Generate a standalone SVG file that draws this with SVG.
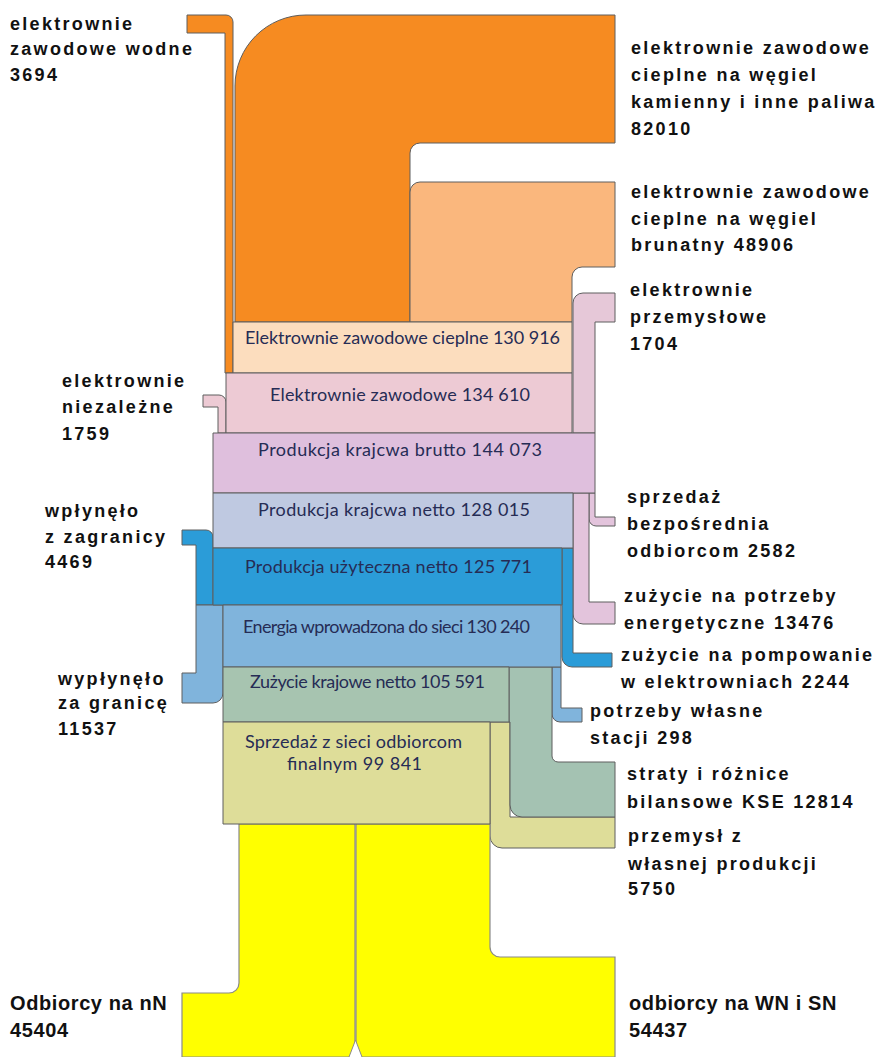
<svg xmlns="http://www.w3.org/2000/svg" width="891" height="1057" viewBox="0 0 891 1057">
<style>
.s{stroke:#5e5e5e;stroke-width:1;stroke-linejoin:round}
.y{stroke:#8a8a8a;stroke-width:1.2}
.lb{font-family:"Liberation Sans",Arial,sans-serif;font-weight:bold;font-size:18px;letter-spacing:2.3px;fill:#111}
.lb2{font-family:"Liberation Sans",Arial,sans-serif;font-weight:bold;font-size:20px;letter-spacing:0.6px;fill:#111}
.bx{font-family:Lato,"Open Sans",sans-serif;font-size:18px;fill:#262c55}
</style>
<rect width="891" height="1057" fill="#fff"/>
<g id="connectors">
  <path id="c-wodne" class="s" fill="#f68b21" d="M187,15 H226 A7,7 0 0 1 233,22 V373 H225 V33 H187 Z"/>
  <path id="c-wegiel-kam" class="s" fill="#f68b21" d="M235,322 V86 A71,71 0 0 1 306,15 H615 V143 H420 A10,10 0 0 0 410,153 V322 Z"/>
  <path id="c-wegiel-brun" class="s" fill="#fab77d" d="M410,322 V192 A10,10 0 0 1 420,182 H615 V267 H582 A10,10 0 0 0 572,277 V322 Z"/>
  <path id="c-przemyslowe" class="s" fill="#e6c8d8" d="M615,293 H583 A10,10 0 0 0 573,303 V433 H595 V322 H615 Z"/>
  <path id="c-niezalezne" class="s" fill="#edcad4" d="M203,395 H219 A7,7 0 0 1 226,402 V433 H218 V407 H203 Z"/>
  <path id="c-sprzedaz-bezp" class="s" fill="#e3c4dc" d="M589,493 H595 V517 H615 V526 H596 A7,7 0 0 1 589,519 Z"/>
  <path id="c-potrzeby-en" class="s" fill="#e3c4dc" d="M573,493 H589 V602 H615 V624 H583 A10,10 0 0 1 573,614 Z"/>
  <path id="c-import" class="s" fill="#2b9cd8" d="M182,530 H206 A7,7 0 0 1 213,537 V605 H196 V545 H182 Z"/>
  <path id="c-pompowanie" class="s" fill="#2b9cd8" d="M562,548 H573 V653 H612 V667 H572 A10,10 0 0 1 562,657 Z"/>
  <path id="c-export" class="s" fill="#80b4dc" d="M196,605 H223 V693 A10,10 0 0 1 213,703 H182 V673 H196 Z"/>
  <path id="c-stacji" class="s" fill="#80b4dc" d="M552,667 H561 V708 H582 V722 H560 A8,8 0 0 1 552,714 Z"/>
  <path id="c-przemysl" class="s" fill="#dedd99" d="M490,722 H510 V817 H615 V848 H502 A12,12 0 0 1 490,836 Z"/>
  <path id="c-straty" class="s" fill="#a4c2b2" d="M509,667 H552 V756 A6,6 0 0 0 558,762 H615 V817 H522 A12,12 0 0 1 510,805 V722 H509 Z"/>
  <path id="c-nN" class="y" fill="#ffff00" d="M239,824 H355 V1057 H182 V993 H229 A10,10 0 0 0 239,983 Z"/>
  <path id="c-WN" class="y" fill="#ffff00" d="M356,824 H490 V947 A10,10 0 0 0 500,957 H615 V1057 H356 Z"/>
  <path id="c-notch" fill="#fff" stroke="#8a8a8a" stroke-width="1" d="M349,1057 L355.5,1040 L362,1057"/>
</g>
<g id="n-cieplne">
  <rect class="s" x="233" y="322" width="339" height="51" fill="#fcddbe"/>
  <text class="bx" x="245" y="344" textLength="315">Elektrownie zawodowe cieplne 130 916</text>
</g>
<g id="n-zawodowe">
  <rect class="s" x="226" y="373" width="346" height="60" fill="#edcad4"/>
  <text class="bx" x="270" y="401" textLength="260">Elektrownie zawodowe 134 610</text>
</g>
<g id="n-brutto">
  <rect class="s" x="213" y="433" width="382" height="60" fill="#dfbfdd"/>
  <text class="bx" x="258" y="456" textLength="284">Produkcja krajcwa brutto 144 073</text>
</g>
<g id="n-netto">
  <rect class="s" x="213" y="493" width="360" height="55" fill="#bfc9e1"/>
  <text class="bx" x="258" y="516" textLength="272">Produkcja krajcwa netto 128 015</text>
</g>
<g id="n-uzyteczna">
  <rect class="s" x="213" y="548" width="349" height="57" fill="#2b9cd8"/>
  <text class="bx" x="245" y="573" textLength="287">Produkcja użyteczna netto 125 771</text>
</g>
<g id="n-energia">
  <rect class="s" x="223" y="605" width="338" height="62" fill="#80b4dc"/>
  <text class="bx" x="243" y="633" textLength="287">Energia wprowadzona do sieci 130 240</text>
</g>
<g id="n-zuzycie">
  <rect class="s" x="223" y="667" width="286" height="55" fill="#a7c4b0"/>
  <text class="bx" x="250" y="688" textLength="235">Zużycie krajowe netto 105 591</text>
</g>
<g id="n-sprzedaz">
  <rect class="s" x="223" y="722" width="267" height="102" fill="#dedd99"/>
  <text class="bx" x="245" y="748" textLength="217">Sprzedaż z sieci odbiorcom</text>
  <text class="bx" x="287" y="770" textLength="135">finalnym  99 841</text>
</g>
<g id="l-wodne">
  <text class="lb" x="10" y="30">elektrownie</text>
  <text class="lb" x="10" y="55">zawodowe wodne</text>
  <text class="lb" x="10" y="81">3694</text>
</g>
<g id="l-kamienny">
  <text class="lb" x="631" y="54">elektrownie zawodowe</text>
  <text class="lb" x="631" y="81">cieplne na węgiel</text>
  <text class="lb" x="631" y="108">kamienny i inne paliwa</text>
  <text class="lb" x="631" y="135">82010</text>
</g>
<g id="l-brunatny">
  <text class="lb" x="631" y="198">elektrownie zawodowe</text>
  <text class="lb" x="631" y="225">cieplne na węgiel</text>
  <text class="lb" x="631" y="251">brunatny 48906</text>
</g>
<g id="l-przemyslowe">
  <text class="lb" x="630" y="296">elektrownie</text>
  <text class="lb" x="630" y="323">przemysłowe</text>
  <text class="lb" x="630" y="350">1704</text>
</g>
<g id="l-niezalezne">
  <text class="lb" x="62" y="387">elektrownie</text>
  <text class="lb" x="62" y="413">niezależne</text>
  <text class="lb" x="62" y="440">1759</text>
</g>
<g id="l-import">
  <text class="lb" x="45" y="517">wpłynęło</text>
  <text class="lb" x="45" y="543">z zagranicy</text>
  <text class="lb" x="45" y="568">4469</text>
</g>
<g id="l-sprzedaz-bezp">
  <text class="lb" x="627" y="503">sprzedaż</text>
  <text class="lb" x="627" y="530">bezpośrednia</text>
  <text class="lb" x="627" y="557">odbiorcom 2582</text>
</g>
<g id="l-potrzeby-en">
  <text class="lb" x="624" y="602">zużycie na potrzeby</text>
  <text class="lb" x="624" y="629">energetyczne 13476</text>
</g>
<g id="l-pompowanie">
  <text class="lb" x="621" y="661">zużycie na pompowanie</text>
  <text class="lb" x="621" y="688">w elektrowniach 2244</text>
</g>
<g id="l-export">
  <text class="lb" x="58" y="685">wypłynęło</text>
  <text class="lb" x="58" y="709">za granicę</text>
  <text class="lb" x="58" y="735">11537</text>
</g>
<g id="l-stacji">
  <text class="lb" x="590" y="717">potrzeby własne</text>
  <text class="lb" x="590" y="744">stacji 298</text>
</g>
<g id="l-straty">
  <text class="lb" x="627" y="780">straty i różnice</text>
  <text class="lb" x="627" y="808">bilansowe KSE 12814</text>
</g>
<g id="l-przemysl">
  <text class="lb" x="628" y="842">przemysł z</text>
  <text class="lb" x="628" y="870">własnej produkcji</text>
  <text class="lb" x="628" y="895">5750</text>
</g>
<g id="l-nN">
  <text class="lb2" x="10" y="1010">Odbiorcy na nN</text>
  <text class="lb2" x="10" y="1037">45404</text>
</g>
<g id="l-WN">
  <text class="lb2" x="629" y="1010">odbiorcy na WN i SN</text>
  <text class="lb2" x="629" y="1037">54437</text>
</g>
</svg>
